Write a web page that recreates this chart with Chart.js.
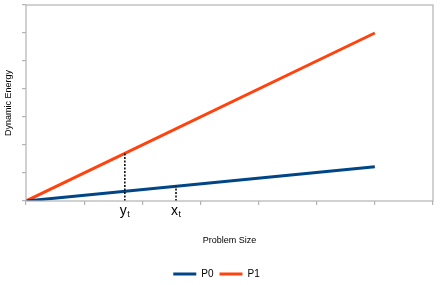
<!DOCTYPE html>
<html>
<head>
<meta charset="utf-8">
<script src="https://cdn.jsdelivr.net/npm/chart.js@4.4.1/dist/chart.umd.min.js"></script>
<style>
  html, body { margin: 0; padding: 0; background: #fff; overflow: hidden; }
  #wrap { position: relative; width: 443px; height: 285px; }
</style>
</head>
<body>
<div id="wrap"><canvas id="chart"></canvas></div>
<script>
// values (axes are unlabelled, one tick = one unit)
const problemSize = [0, 6];
const p0Energy = [0, 1.22];
const p1Energy = [0, 6];

const seriesNames = ["P0", "P1"];
const seriesColors = ["#004586", "#ff420e"];

// threshold markers: dotted drop lines with their labels
const markerNames = ["y", "x"];
const markerSub = ["t", "t"];
const markerSize = [1.7, 2.58];
const markerEnergy = [1.7, 0.53];

const axisMax = 7;
const AXIS_COLOR = "#b3b3b3";
const FONT = "'Liberation Sans', Arial, sans-serif";

function toPoints(xs, ys) {
  return xs.map((x, i) => ({ x, y: ys[i] }));
}

const lineSets = [p0Energy, p1Energy].map((values, i) => ({
  label: seriesNames[i],
  data: toPoints(problemSize, values),
  borderColor: seriesColors[i],
  backgroundColor: seriesColors[i],
  borderWidth: 3,
  pointRadius: 0,
  fill: false,
}));

const dropSets = markerSize.map((x, i) => ({
  label: "marker-" + i,
  data: [{ x, y: 0 }, { x, y: markerEnergy[i] }],
  borderColor: "#000",
  borderWidth: 1.5,
  borderDash: [2, 1.5],
  pointRadius: 0,
  fill: false,
}));

const framePlugin = {
  id: "frame",
  afterDraw(chart) {
    const { ctx, chartArea: a } = chart;
    ctx.save();
    ctx.strokeStyle = AXIS_COLOR;
    ctx.lineWidth = 1.2;
    ctx.strokeRect(a.left, a.top, a.right - a.left, a.bottom - a.top);
    ctx.restore();
  },
};

const markerLabels = {
  id: "markerLabels",
  afterDraw(chart) {
    const { ctx, scales } = chart;
    const base = scales.y.getPixelForValue(0);
    ctx.save();
    ctx.fillStyle = "#000";
    ctx.textBaseline = "alphabetic";
    markerSize.forEach((value, i) => {
      const cx = scales.x.getPixelForValue(value) - 1.5;
      ctx.font = "14px " + FONT;
      const w = ctx.measureText(markerNames[i]).width;
      ctx.textAlign = "left";
      ctx.fillText(markerNames[i], cx - w / 2, base + 14);
      ctx.font = "9px " + FONT;
      ctx.fillText(markerSub[i], cx + w / 2 + 0.5, base + 16);
    });
    ctx.restore();
  },
};

new Chart(document.getElementById("chart"), {
  type: "line",
  data: { datasets: [...dropSets, ...lineSets] },
  options: {
    responsive: true,
    maintainAspectRatio: false,
    animation: false,
    layout: { padding: { left: 0, top: 5, right: 10, bottom: -4 } },
    scales: {
      x: {
        type: "linear",
        min: 0,
        max: axisMax,
        ticks: { stepSize: 1, display: false },
        grid: { drawOnChartArea: false, drawTicks: true, tickLength: 4, color: AXIS_COLOR, lineWidth: 1.2 },
        border: { display: false },
        title: {
          display: true,
          text: "Problem Size",
          color: "#000",
          font: { family: FONT, size: 9 },
          padding: { top: 0, bottom: 16.6 },
        },
        afterFit(scale) { scale.height = 62; },
      },
      y: {
        min: 0,
        max: axisMax,
        ticks: { stepSize: 1, display: false },
        grid: { drawOnChartArea: false, drawTicks: true, tickLength: 4, color: AXIS_COLOR, lineWidth: 1.2 },
        border: { display: false },
        title: {
          display: true,
          text: "Dynamic Energy",
          color: "#000",
          font: { family: FONT, size: 9 },
          padding: { top: 3, bottom: 0 },
        },
        afterFit(scale) { scale.width = 26; },
      },
    },
    plugins: {
      tooltip: { enabled: false },
      legend: {
        position: "bottom",
        labels: {
          boxWidth: 23,
          boxHeight: 3,
          padding: 6,
          color: "#000",
          font: { family: FONT, size: 10 },
          generateLabels(chart) {
            return Chart.defaults.plugins.legend.labels
              .generateLabels(chart)
              .filter((item) => seriesNames.includes(item.text))
              .map((item) => ({ ...item, lineWidth: 0, fillStyle: item.strokeStyle, lineDash: [] }));
          },
        },
      },
    },
  },
  plugins: [framePlugin, markerLabels],
});
</script>
</body>
</html>
